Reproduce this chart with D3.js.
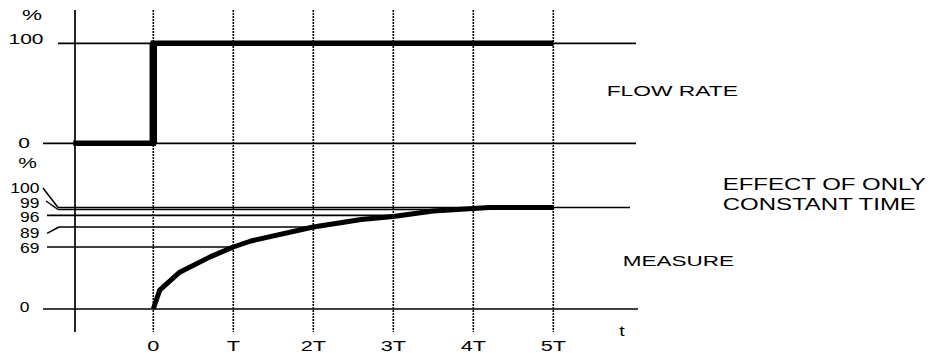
<!DOCTYPE html>
<html>
<head>
<meta charset="utf-8">
<script src="https://cdn.jsdelivr.net/npm/d3@7"></script>
<style>
  html, body { margin: 0; padding: 0; background: #fff; }
  svg { display: block; }
  text { font-family: "Liberation Sans", Arial, sans-serif; fill: #000; }
</style>
</head>
<body>
<svg id="chart" width="933" height="353"></svg>
<script>
// Time in units of the constant T
const timeTicks = [0, 1, 2, 3, 4, 5];
const timeLabels = ["0", "T", "2T", "3T", "4T", "5T"];

// Flow rate step (%)
const flowT = [-1, 0, 0, 5];
const flowV = [0, 0, 100, 100];

// Measured response (%)
const measureT = [0, 0.08, 0.33, 0.71, 1, 1.22, 2, 2.6, 3, 3.5, 4, 4.2, 5];
const measureV = [0, 21, 41, 58, 69, 75, 89, 93.5, 95.3, 98.2, 99.5, 100, 100];

// Reference levels on the measure panel
const levels = [100, 99, 96, 89, 69, 0];
const levelLabels = ["100", "99", "96", "89", "69", "0"];

const svg = d3.select("#chart");

const x = d3.scaleLinear().domain([-1, 5]).range([73.3, 553.3]);
const yFlow = d3.scaleLinear().domain([0, 100]).range([143.3, 43.3]);
// Schematic, non-uniform vertical scale that spreads the upper levels apart
const yMeas = d3.scaleLinear()
  .domain([0, 69, 89, 96, 99, 100])
  .range([309, 247, 227, 215.3, 209.5, 207.5]);

const axisX = 75, gridTop = 10, gridBottom = 332;

function label(txt, tx, ty, anchor, size, sx) {
  svg.append("text")
    .attr("transform", `translate(${tx},${ty}) scale(${sx},1)`)
    .attr("text-anchor", anchor)
    .attr("font-size", size)
    .text(txt);
}

function hline(x1, x2, y, w) {
  svg.append("line")
    .attr("x1", x1).attr("x2", x2).attr("y1", y).attr("y2", y)
    .attr("stroke", "#000").attr("stroke-width", w || 1.7);
}

// Dotted time gridlines
svg.append("g").selectAll("line")
  .data(timeTicks).join("line")
  .attr("x1", d => x(d)).attr("x2", d => x(d))
  .attr("y1", gridTop).attr("y2", gridBottom)
  .attr("stroke", "#000").attr("stroke-width", 1.6)
  .attr("stroke-dasharray", "2,1");

// Vertical axis
svg.append("line")
  .attr("x1", axisX).attr("x2", axisX)
  .attr("y1", gridTop).attr("y2", gridBottom)
  .attr("stroke", "#000").attr("stroke-width", 1.7);

// --- Flow rate panel ---
hline(58, 636, yFlow(100));
hline(43, 636, yFlow(0));
label("%", 32, 20, "middle", 15, 1.5);
label("100", 43.5, 44.3, "end", 15, 1.4);
label("0", 30, 147.5, "end", 15, 1.4);

const flowLine = d3.line().x(d => x(d[0])).y(d => yFlow(d[1]));
const flowPts = flowT.map((t, i) => [t, flowV[i]]);
svg.append("path")
  .attr("d", flowLine(flowPts))
  .attr("fill", "none").attr("stroke", "#000")
  .attr("stroke-width", 5.5).attr("stroke-linejoin", "miter");
// Heavier stroke on the step itself
const stepPts = flowPts.filter(d => d[0] === 0);
svg.append("path")
  .attr("d", flowLine(stepPts))
  .attr("fill", "none").attr("stroke", "#000")
  .attr("stroke-width", 7.5);

label("FLOW RATE", 606.7, 96, "start", 15, 1.52);

// --- Measure panel ---
const measPts = measureT.map((t, i) => [t, measureV[i]]);

// time at which the response first reaches a given level
function reachTime(v) {
  for (let i = 1; i < measPts.length; i++) {
    const [t0, v0] = measPts[i - 1], [t1, v1] = measPts[i];
    if (v1 >= v && v0 <= v) return v1 === v0 ? t0 : t0 + (v - v0) / (v1 - v0) * (t1 - t0);
  }
  return measPts[measPts.length - 1][0];
}

const levelStart = { 100: 58, 99: 58, 96: 47, 89: 59, 69: 47, 0: 43 };
const levelEnd = v => v === 100 ? 630 : v === 0 ? 638 : x(reachTime(v));
levels.forEach(v => hline(levelStart[v], levelEnd(v), yMeas(v)));

// Leader lines from the crowded labels to their levels
const leaders = [
  [[43, 188], [58, yMeas(100)]],
  [[46, 201], [58, yMeas(99)]],
  [[47, 233.3], [59, yMeas(89)]]
];
leaders.forEach(seg => {
  svg.append("line")
    .attr("x1", seg[0][0]).attr("y1", seg[0][1])
    .attr("x2", seg[1][0]).attr("y2", seg[1][1])
    .attr("stroke", "#000").attr("stroke-width", 1.5);
});

label("%", 27.5, 168, "middle", 14, 1.5);
const levelBaselines = [193.3, 208.3, 221.7, 238.3, 253.3, 312];
levelLabels.forEach((s, i) => {
  const rightEdge = s === "0" ? 29.5 : 39.5;
  label(s, rightEdge, levelBaselines[i], "end", 14, 1.25);
});

svg.append("path")
  .attr("d", d3.line().x(d => x(d[0])).y(d => yMeas(d[1]))(measPts))
  .attr("fill", "none").attr("stroke", "#000")
  .attr("stroke-width", 5).attr("stroke-linejoin", "round");

// Time tick labels
timeTicks.forEach((t, i) => label(timeLabels[i], x(t), 350.5, "middle", 14, 1.55));
label("t", 622, 336, "middle", 14, 1.4);

label("EFFECT OF ONLY", 722.7, 190, "start", 16, 1.5);
label("CONSTANT TIME", 722.7, 210, "start", 16, 1.5);
label("MEASURE", 622.7, 266, "start", 15, 1.5);
</script>
</body>
</html>
